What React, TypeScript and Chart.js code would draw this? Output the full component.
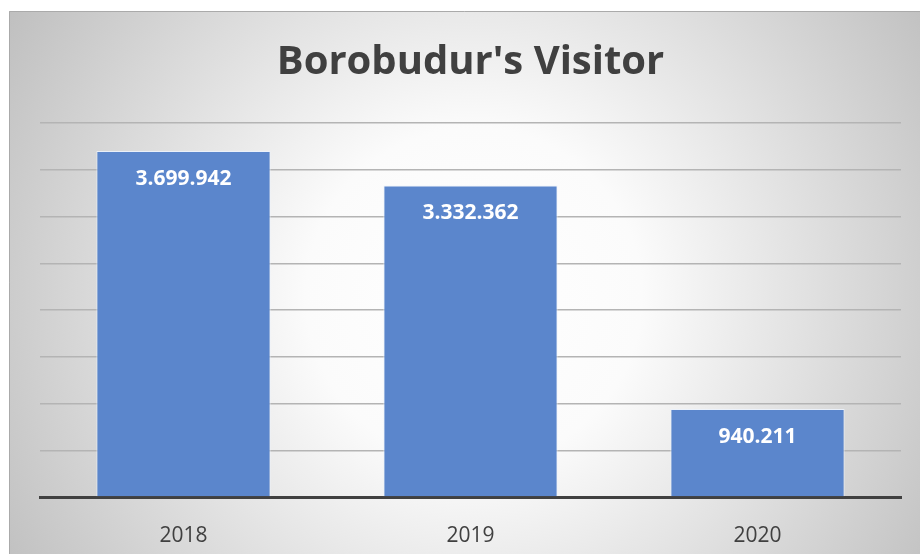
import React, { useEffect, useRef } from "react";
import { Chart, registerables } from "chart.js";

Chart.register(...registerables);

const categories = ["2018", "2019", "2020"];
const visitors = [3699942, 3332362, 940211];
const titleText = "Borobudur's Visitor";
const yMax = 4000000;
const yStep = 500000;

const fmt = (v: number) => String(v).replace(/\B(?=(\d{3})+(?!\d))/g, ".");

const bgPlugin = {
  id: "bgPlugin",
  beforeDraw(chart: any) {
    const { ctx, width, height } = chart;
    ctx.save();
    const g = ctx.createRadialGradient(465, 285, 0, 465, 285, 560);
    g.addColorStop(0, "#ffffff");
    g.addColorStop(0.3, "#fbfbfb");
    g.addColorStop(1, "#bdbdbd");
    ctx.fillStyle = g;
    ctx.fillRect(0, 0, width, height);
    ctx.strokeStyle = "#aaaaaa";
    ctx.lineWidth = 1;
    ctx.beginPath();
    ctx.moveTo(0.5, height);
    ctx.lineTo(0.5, 0.5);
    ctx.lineTo(width, 0.5);
    ctx.stroke();
    ctx.restore();
  },
};

const titlePlugin = {
  id: "titlePlugin",
  afterDraw(chart: any) {
    const { ctx, chartArea } = chart;
    ctx.save();
    ctx.font = "bold 40px 'Open Sans'";
    ctx.fillStyle = "#404040";
    ctx.textAlign = "center";
    ctx.textBaseline = "middle";
    ctx.fillText(titleText, (chartArea.left + chartArea.right) / 2, 52);
    ctx.restore();
  },
};

const labelPlugin = {
  id: "labelPlugin",
  afterDatasetsDraw(chart: any) {
    const { ctx } = chart;
    const meta = chart.getDatasetMeta(0);
    ctx.save();
    ctx.font = "bold 21px 'Open Sans'";
    ctx.fillStyle = "#ffffff";
    ctx.textAlign = "center";
    ctx.textBaseline = "middle";
    meta.data.forEach((bar: any, i: number) => {
      ctx.fillText(fmt(visitors[i]), bar.x, bar.y + 28);
    });
    ctx.restore();
  },
};

export default function App() {
  const ref = useRef<HTMLCanvasElement>(null);
  useEffect(() => {
    if (!ref.current) return;
    const chart = new Chart(ref.current, {
      type: "bar",
      data: {
        labels: categories,
        datasets: [
          {
            data: visitors,
            backgroundColor: "#5b86cc",
            borderColor: "rgba(235,242,252,0.9)",
            borderWidth: 1,
            barPercentage: 0.607,
            categoryPercentage: 1,
          },
        ],
      },
      options: {
        responsive: false,
        animation: false,
        layout: { padding: { left: 31, right: 19, top: 112, bottom: 0 } },
        plugins: {
          legend: { display: false },
          title: { display: false },
          tooltip: { enabled: false },
        },
        scales: {
          x: {
            grid: { display: false },
            border: { display: true, color: "#404040", width: 3 },
            ticks: {
              color: "#404040",
              font: { family: "'Open Sans'", size: 21 },
              padding: 18,
            },
            afterFit: (s: any) => {
              s.height = 57;
            },
          },
          y: {
            min: 0,
            max: yMax,
            ticks: { display: false, stepSize: yStep },
            grid: { color: "#b4b4b4", lineWidth: 1.5, drawTicks: false },
            border: { display: false },
            afterFit: (s: any) => {
              s.width = 0;
            },
          },
        },
      },
      plugins: [bgPlugin, titlePlugin, labelPlugin],
    });
    return () => chart.destroy();
  }, []);
  return (
    <canvas
      ref={ref}
      width={911}
      height={543}
      style={{ position: "fixed", left: 9, top: 11, width: 911, height: 543 }}
    />
  );
}
